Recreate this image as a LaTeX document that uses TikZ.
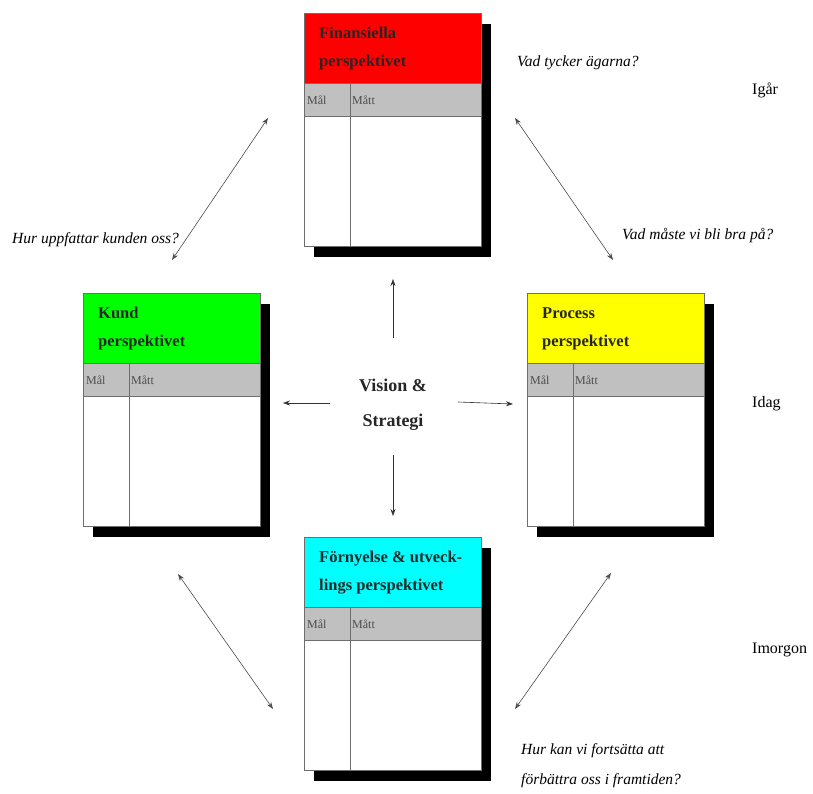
\documentclass[tikz,border=0pt]{standalone}
\usepackage{fontspec}
\setmainfont{Liberation Serif}
\usetikzlibrary{arrows.meta,calc}
\definecolor{rowgray}{RGB}{192,192,192}
\definecolor{linegray}{RGB}{110,110,110}
\definecolor{hdred}{RGB}{255,0,0}
\definecolor{hdgreen}{RGB}{0,255,0}
\definecolor{hdyellow}{RGB}{255,255,0}
\definecolor{hdcyan}{RGB}{0,255,255}
\newcommand\bscard[6]{% name, left, top, colour, header text, dummy
  \fill[black] (#2+10,#3+11) rectangle (#2+187,#3+244);
  \node[cardbody] (#1) at (#2,#3) {};
  \fill[#4] (#1.north west) rectangle ($(#1.north west)+(177,70)$);
  \fill[rowgray] ($(#1.north west)+(0,70)$) rectangle ($(#1.north west)+(177,103)$);
  \draw[linegray] ($(#1.north west)+(0,70)$) -- ++(177,0);
  \draw[linegray] ($(#1.north west)+(0,103)$) -- ++(177,0);
  \draw[linegray] ($(#1.north west)+(46,70)$) -- ($(#1.south west)+(46,0)$);
  \draw[linegray] (#1.north west) rectangle (#1.south east);
  \node[cardhead] (#1-h) at ($(#1.north west)+(15,14)$) {#5};
  \node[rowtxt] (#1-m1) at ($(#1.north west)+(3,87)$) {Mål};
  \node[rowtxt] (#1-m2) at ($(#1.north west)+(48,87)$) {Mått};
}
\begin{document}
\begin{tikzpicture}[x=1pt,y=-1pt,
  cardbody/.style={draw=linegray,fill=white,anchor=north west,minimum width=177pt,minimum height=233pt,inner sep=0pt,outer sep=0pt},
  cardhead/.style={anchor=north west,align=left,font=\fontsize{16.5}{28}\selectfont\bfseries,inner sep=0pt,text=black!85},
  rowtxt/.style={anchor=west,font=\fontsize{12}{14}\selectfont,inner sep=0pt,text=black!70},
  question/.style={anchor=west,font=\fontsize{15.5}{30}\selectfont\itshape,inner sep=0pt,align=left},
  timelbl/.style={anchor=west,font=\fontsize{16}{18}\selectfont,inner sep=0pt},
  arr/.style={-{Stealth[length=7pt,width=5pt]},line width=0.6pt,black!80},
  darr/.style={{Stealth[length=7pt,width=5pt]}-{Stealth[length=7pt,width=5pt]},line width=0.6pt,black!70}]
\useasboundingbox[fill=white] (0,0) rectangle (813,794);
\bscard{fin}{304}{13}{hdred}{Finansiella\\perspektivet}{}
\bscard{kund}{83}{293}{hdgreen}{Kund\\perspektivet}{}
\bscard{proc}{527}{293}{hdyellow}{Process\\perspektivet}{}
\bscard{forn}{304}{537}{hdcyan}{Förnyelse \& utveck-\\lings perspektivet}{}
\node[align=center,font=\fontsize{18}{35}\selectfont\bfseries,text=black!85] (vs) at (393,405) {Vision \&\\Strategi};
\node[question] (q1) at (517,63) {Vad tycker ägarna?};
\node[question] (q2) at (12,240) {Hur uppfattar kunden oss?};
\node[question] (q3) at (622,236) {Vad måste vi bli bra på?};
\node[question,anchor=north west] (q4) at (521,743) {Hur kan vi fortsätta att\\förbättra oss i framtiden?};
\node[timelbl] (t1) at (752,90) {Igår};
\node[timelbl] (t2) at (752,404) {Idag};
\node[timelbl] (t3) at (752,650) {Imorgon};
\coordinate (tl1) at (268,118); \coordinate (tl2) at (172,260);
\coordinate (tr1) at (515,118); \coordinate (tr2) at (613,260);
\coordinate (bl1) at (178,574); \coordinate (bl2) at (273,709);
\coordinate (br1) at (611,573); \coordinate (br2) at (515,709);
\coordinate (cu1) at (393,338); \coordinate (cu2) at (393,279);
\coordinate (cl1) at (330,403); \coordinate (cl2) at (283,403);
\coordinate (cr1) at (458,402); \coordinate (cr2) at (513,404);
\coordinate (cd1) at (393,455); \coordinate (cd2) at (393,516);
\draw[darr] (tl1) -- (tl2);
\draw[darr] (tr1) -- (tr2);
\draw[darr] (bl1) -- (bl2);
\draw[darr] (br1) -- (br2);
\draw[arr] (cu1) -- (cu2);
\draw[arr] (cl1) -- (cl2);
\draw[arr] (cr1) -- (cr2);
\draw[arr] (cd1) -- (cd2);
\end{tikzpicture}
\end{document}
